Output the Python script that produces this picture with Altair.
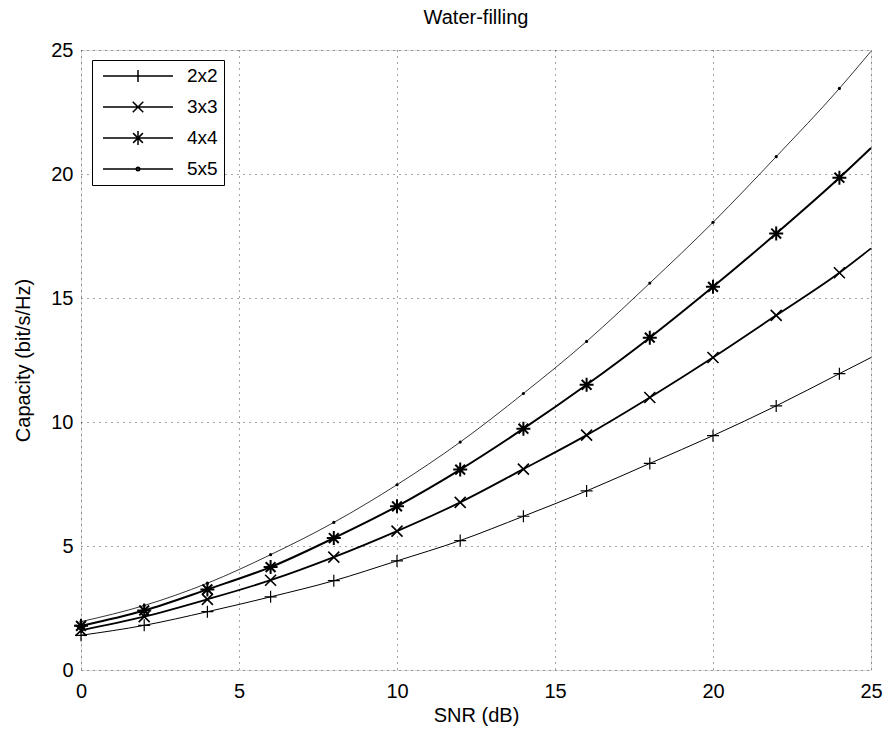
import altair as alt
import pandas as pd

snr = [0, 2, 4, 6, 8, 10, 12, 14, 16, 18, 20, 22, 24, 25]
cap_2x2 = [1.40, 1.80, 2.35, 2.95, 3.60, 4.40, 5.22, 6.20, 7.22, 8.33, 9.45, 10.65, 11.95, 12.60]
cap_3x3 = [1.60, 2.15, 2.85, 3.62, 4.55, 5.60, 6.76, 8.10, 9.47, 10.99, 12.60, 14.30, 16.02, 17.00]
cap_4x4 = [1.78, 2.40, 3.25, 4.15, 5.32, 6.60, 8.08, 9.73, 11.50, 13.40, 15.45, 17.60, 19.85, 21.05]
cap_5x5 = [1.95, 2.60, 3.50, 4.65, 5.95, 7.47, 9.19, 11.15, 13.25, 15.60, 18.05, 20.70, 23.45, 24.95]
series_names = ["2x2", "3x3", "4x4", "5x5"]
x_ticks = [0, 5, 10, 15, 20, 25]
y_ticks = [0, 5, 10, 15, 20, 25]

rows = []
for name, vals in zip(series_names, [cap_2x2, cap_3x3, cap_4x4, cap_5x5]):
    for s, c in zip(snr, vals):
        rows.append({"snr": s, "cap": c, "series": name})
df = pd.DataFrame(rows)

# one off-plot row per series: only feeds the legend (clipped away)
legend_df = pd.DataFrame({"snr": [-50] * 4, "cap": [-50] * 4, "series": series_names})

FONT = "Liberation Sans"

legend_paths = [
    "M-1,0L1,0M-0.17,0L0.17,0M0,-0.17L0,0.17",
    "M-1,0L1,0M-0.15,-0.15L0.15,0.15M-0.15,0.15L0.15,-0.15",
    "M-1,0L1,0M-0.2,0L0.2,0M0,-0.2L0,0.2M-0.14,-0.14L0.14,0.14M-0.14,0.14L0.14,-0.14",
    "M-1,0L1,0M-0.05,0A0.05,0.05 0 1 0 0.05,0A0.05,0.05 0 1 0 -0.05,0",
]

def axis(title, values, lpad, tpad):
    return alt.Axis(values=values, title=title, grid=True, ticks=False,
                    domain=False, labelFontSize=20, titleFontSize=20,
                    labelFont=FONT, titleFont=FONT, labelColor="black",
                    titleColor="black", titleFontWeight="normal",
                    labelPadding=lpad, titlePadding=tpad,
                    gridColor="black", gridDash=[1, 5], gridOpacity=0.7,
                    labelFlush=False)

xs = alt.X("snr:Q", scale=alt.Scale(domain=[0, 25], nice=False),
           axis=axis("SNR (dB)", x_ticks, 11, 4))
ys = alt.Y("cap:Q", scale=alt.Scale(domain=[0, 25], nice=False),
           axis=axis("Capacity (bit/s/Hz)", y_ticks, 8, 17))

def sub(name):
    return alt.Chart(df).transform_filter(f"datum.series == '{name}'")

line_w = {"2x2": 1.0, "3x3": 1.8, "4x4": 2.0, "5x5": 0.8}
layers = []
for name in series_names:
    layers.append(sub(name).mark_line(color="black", interpolate="monotone",
                                      strokeWidth=line_w[name]).encode(x=xs, y=ys))

def pts(name):
    return sub(name).transform_filter("datum.snr < 25")

layers.append(pts("2x2").mark_point(
    shape="M-1,0L1,0M0,-1L0,1", size=144, strokeWidth=1.2, color="black", filled=False, opacity=1
).encode(x=xs, y=ys))
layers.append(pts("3x3").mark_point(
    shape="M-1,-1L1,1M-1,1L1,-1", size=121, strokeWidth=1.6, color="black", filled=False, opacity=1
).encode(x=xs, y=ys))
layers.append(pts("4x4").mark_point(
    shape="M-1,0L1,0M0,-1L0,1M-0.7,-0.7L0.7,0.7M-0.7,0.7L0.7,-0.7", size=196, strokeWidth=2,
    color="black", filled=False, opacity=1
).encode(x=xs, y=ys))
layers.append(pts("5x5").mark_point(
    shape="circle", size=10, color="black", filled=True, opacity=1
).encode(x=xs, y=ys))

legend_layer = alt.Chart(legend_df).mark_point(
    color="black", filled=False, opacity=1, clip=True, strokeWidth=1.5
).encode(
    x=xs, y=ys,
    shape=alt.Shape("series:N", scale=alt.Scale(domain=series_names, range=legend_paths),
                    legend=alt.Legend(title=None, orient="none", legendX=11, legendY=10,
                                      symbolSize=4900, clipHeight=20, rowPadding=11,
                                      symbolOffset=4, labelOffset=13, padding=6,
                                      labelFontSize=19, labelFont=FONT, labelColor="black",
                                      strokeColor="black", fillColor="white",
                                      symbolStrokeColor="black", symbolFillColor="transparent",
                                      symbolStrokeWidth=1.5, cornerRadius=0)),
)
layers.append(legend_layer)

chart = alt.layer(*layers).properties(
    width=790, height=620,
    title=alt.TitleParams("Water-filling", fontSize=20, font=FONT, fontWeight="normal",
                          color="black", anchor="middle", offset=12),
    autosize=alt.AutoSizeParams(type="none"),
    padding={"left": 81, "top": 50, "right": 15, "bottom": 61},
).configure_view(stroke="black", strokeWidth=1.2).configure(background="white")

chart.save("out.html", embed_options={"renderer": "svg", "actions": False})
